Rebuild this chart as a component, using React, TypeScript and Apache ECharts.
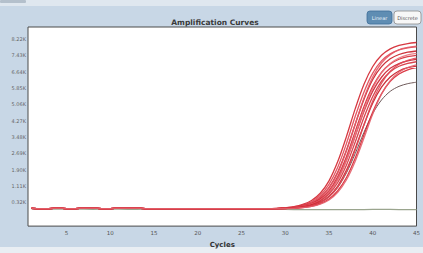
import React, { useEffect, useRef } from "react";
import * as echarts from "echarts";

const title = "Amplification Curves";
const xTitle = "Cycles";
const buttonLabels = ["Linear", "Discrete"];
const xTickLabels = [5, 10, 15, 20, 25, 30, 35, 40, 45];
const yTickValues = [0.32, 1.11, 1.9, 2.69, 3.48, 4.27, 5.06, 5.85, 6.64, 7.43, 8.22];

// shared flat baseline, cycles 1..27 (K RFU)
const baseline = [0.03, 0.02, 0.02, 0.025, 0.02, 0.02, 0.025, 0.025, 0.02, 0.02, 0.025, 0.025, 0.025, 0.02, 0.02, 0.02, 0.02, 0.02, 0.02, 0.018, 0.018, 0.018, 0.018, 0.02, 0.02, 0.02, 0.02];

// amplification part, cycles 28..45 (K RFU)
const well1 = [0.02, 0.03, 0.06, 0.11, 0.22, 0.41, 0.76, 1.36, 2.29, 3.51, 4.85, 6.03, 6.89, 7.43, 7.74, 7.91, 8.0, 8.05];
const well2 = [0.02, 0.03, 0.05, 0.1, 0.18, 0.35, 0.66, 1.19, 2.02, 3.17, 4.48, 5.66, 6.57, 7.16, 7.5, 7.69, 7.79, 7.84];
const well3 = [0.02, 0.02, 0.04, 0.08, 0.16, 0.3, 0.57, 1.03, 1.78, 2.85, 4.1, 5.31, 6.26, 6.88, 7.26, 7.47, 7.58, 7.64];
const well4 = [0.02, 0.02, 0.04, 0.08, 0.15, 0.29, 0.55, 1.01, 1.74, 2.81, 4.11, 5.37, 6.38, 7.06, 7.46, 7.7, 7.81, 7.88];
const well5 = [0.02, 0.02, 0.04, 0.07, 0.14, 0.26, 0.49, 0.89, 1.57, 2.54, 3.75, 4.96, 5.93, 6.61, 7.01, 7.24, 7.37, 7.43];
const well6 = [0.02, 0.02, 0.03, 0.06, 0.12, 0.23, 0.45, 0.82, 1.45, 2.37, 3.53, 4.72, 5.7, 6.37, 6.8, 7.03, 7.16, 7.23];
const well7 = [0.02, 0.02, 0.03, 0.06, 0.12, 0.23, 0.43, 0.81, 1.42, 2.36, 3.55, 4.79, 5.84, 6.58, 7.04, 7.3, 7.45, 7.52];
const well8 = [0.02, 0.02, 0.03, 0.05, 0.11, 0.21, 0.39, 0.72, 1.28, 2.13, 3.24, 4.43, 5.44, 6.18, 6.64, 6.9, 7.04, 7.12];
const well9 = [0.02, 0.02, 0.02, 0.05, 0.09, 0.17, 0.33, 0.62, 1.11, 1.88, 2.93, 4.07, 5.12, 5.89, 6.38, 6.67, 6.83, 6.91];
const well10 = [0.02, 0.02, 0.02, 0.04, 0.08, 0.16, 0.31, 0.58, 1.05, 1.81, 2.85, 4.07, 5.22, 6.08, 6.66, 7.0, 7.19, 7.29];
const well11 = [0.02, 0.02, 0.02, 0.04, 0.07, 0.13, 0.26, 0.48, 0.88, 1.52, 2.46, 3.59, 4.69, 5.57, 6.17, 6.53, 6.73, 6.83];
const well12 = [0.02, 0.02, 0.02, 0.03, 0.06, 0.12, 0.23, 0.43, 0.8, 1.41, 2.31, 3.43, 4.59, 5.55, 6.2, 6.61, 6.84, 6.97];
const wellGray = [0.02, 0.02, 0.02, 0.04, 0.09, 0.16, 0.31, 0.58, 1.04, 1.75, 2.68, 3.71, 4.62, 5.27, 5.69, 5.93, 6.06, 6.13];

// no-template control, cycles 1..45
const ntc = [0.0, -0.01, -0.01, 0.0, -0.01, -0.01, -0.01, -0.02, -0.01, -0.01, -0.01, -0.02, -0.02, -0.01, -0.01, -0.02, -0.02, -0.02, -0.02, -0.02, -0.02, -0.02, -0.02, -0.02, -0.02, -0.02, -0.02, -0.02, -0.02, -0.02, -0.03, -0.03, -0.03, -0.03, -0.03, -0.03, -0.03, -0.03, -0.03, -0.02, -0.02, -0.02, -0.03, -0.03, -0.03];

const redWells = [well1, well2, well3, well4, well5, well6, well7, well8, well9, well10, well11, well12];
const redColors = ["#d2232d", "#e04552", "#c81d27", "#e35a66", "#d62b36", "#cc2030", "#e8707a", "#d3303a", "#c51b25", "#df4a56", "#d82733", "#e2606b"];

export default function App() {
  const ref = useRef<HTMLDivElement>(null);
  useEffect(() => {
    if (!ref.current) return;
    const chart = echarts.init(ref.current, null, { renderer: "svg" });
    const toPairs = (rise: number[]) => {
      const all = baseline.concat(rise);
      return all.map((v, i) => [i + 1, v]);
    };
    const series: any[] = [];
    series.push({
      type: "line",
      data: ntc.map((v, i) => [i + 1, v]),
      symbol: "none",
      lineStyle: { color: "#9aa58e", width: 1.2 },
      z: 1,
    });
    series.push({
      type: "line",
      data: toPairs(wellGray),
      symbol: "none",
      smooth: 0.3,
      lineStyle: { color: "#6e5a5a", width: 1 },
      z: 2,
    });
    redWells.forEach((w, i) => {
      series.push({
        type: "line",
        data: toPairs(w),
        symbol: "none",
        smooth: 0.3,
        lineStyle: { color: redColors[i], width: 1.3, opacity: 0.9 },
        z: 3,
      });
    });
    chart.setOption({
      animation: false,
      backgroundColor: "#c8d7e6",
      grid: {
        left: 28,
        top: 27,
        right: 3,
        bottom: 22,
        show: true,
        backgroundColor: "#ffffff",
        borderColor: "#4a4a4a",
        borderWidth: 1,
      },
      title: {
        text: title,
        left: 210,
        top: 13,
        textAlign: "center",
        textStyle: { fontSize: 7.5, fontWeight: "bold", color: "#3a3a3a", fontFamily: "DejaVu Sans" },
      },
      xAxis: {
        type: "value",
        min: 0.6,
        max: 45,
        name: xTitle,
        nameLocation: "middle",
        nameGap: 13,
        nameTextStyle: { fontSize: 7, fontWeight: "bold", color: "#333", fontFamily: "DejaVu Sans" },
        axisLine: { show: false },
        axisTick: { show: false },
        splitLine: { show: false },
        axisLabel: {
          customValues: xTickLabels,
          fontSize: 5.5,
          color: "#555",
          margin: 4,
          fontFamily: "DejaVu Sans",
        },
      },
      yAxis: {
        type: "value",
        min: -0.83,
        max: 8.8,
        axisLine: { show: false },
        axisTick: { show: false },
        splitLine: { show: false },
        axisLabel: {
          customValues: yTickValues,
          formatter: (v: number) => v.toFixed(2) + "K",
          fontSize: 5,
          color: "#666",
          margin: 2,
          fontFamily: "DejaVu Sans",
        },
      },
      graphic: [
        { type: "rect", z: -100, shape: { x: 0, y: 0, width: 423, height: 6 }, style: { fill: "#dfe7ef" } },
        { type: "rect", z: -99, shape: { x: 0, y: 0, width: 26, height: 3, r: 1 }, style: { fill: "#b4c0cc" } },
        { type: "rect", z: -100, shape: { x: 0, y: 247, width: 423, height: 6 }, style: { fill: "#e9eef3" } },
        {
          type: "group",
          children: [
            { type: "rect", shape: { x: 367, y: 11, width: 25, height: 13, r: 3 }, style: { fill: "#5f8db3", stroke: "#3f6f99", lineWidth: 0.8 } },
            { type: "text", x: 379.5, y: 17.5, style: { text: buttonLabels[0], fontSize: 5, fill: "#eef4fa", align: "center", verticalAlign: "middle", fontFamily: "DejaVu Sans" } },
            { type: "rect", shape: { x: 394, y: 11, width: 27, height: 13, r: 3 }, style: { fill: "#f7f7f7", stroke: "#8a8a8a", lineWidth: 0.8 } },
            { type: "text", x: 407.5, y: 17.5, style: { text: buttonLabels[1], fontSize: 5, fill: "#555", align: "center", verticalAlign: "middle", fontFamily: "DejaVu Sans" } },
          ],
        },
      ],
      series,
    });
    return () => chart.dispose();
  }, []);
  return <div ref={ref} style={{ position: "absolute", left: 0, top: 0, width: 423, height: 253 }} />;
}
